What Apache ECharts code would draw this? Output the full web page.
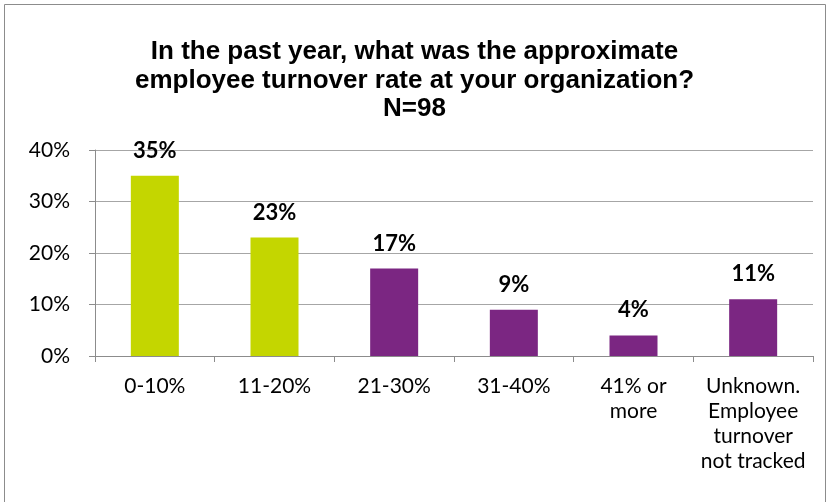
<!DOCTYPE html>
<html>
<head>
<meta charset="utf-8">
<script src="https://cdn.jsdelivr.net/npm/echarts@6/dist/echarts.min.js"></script>
<style>
  html, body { margin: 0; padding: 0; background: #fff; }
  #chart { width: 829px; height: 502px; }
</style>
</head>
<body>
<div id="chart"></div>
<script>
// Turnover survey responses (N=98), share of respondents per band (%)
const categories = ['0-10%', '11-20%', '21-30%', '31-40%', '41% or\nmore', 'Unknown.\nEmployee\nturnover\nnot tracked'];
const shares = [35, 23, 17, 9, 4, 11];
const barColors = ['#c4d600', '#c4d600', '#7b2682', '#7b2682', '#7b2682', '#7b2682'];
const yTicks = [0, 10, 20, 30, 40];

const chart = echarts.init(document.getElementById('chart'));
const labelFont = 'Lato, "Open Sans", sans-serif';

chart.setOption({
  animation: false,
  graphic: [{
    type: 'rect',
    shape: { x: 4.5, y: 4.5, width: 821, height: 510 },
    style: { fill: 'none', stroke: '#8c8c8c', lineWidth: 1 },
    silent: true
  }],
  title: {
    text: 'In the past year, what was the approximate\nemployee turnover rate at your organization?\nN=98',
    left: 'center',
    top: 33,
    textStyle: {
      fontFamily: '"Liberation Sans", Arial, sans-serif',
      fontWeight: 'bold',
      fontSize: 26,
      lineHeight: 28.5,
      color: '#000'
    }
  },
  grid: { left: 95, right: 16, top: 150, bottom: 146, containLabel: false },
  xAxis: {
    type: 'category',
    data: categories,
    axisLine: { lineStyle: { color: '#8c8c8c', width: 1 } },
    axisTick: { show: true, length: 6, lineStyle: { color: '#8c8c8c' } },
    axisLabel: {
      interval: 0,
      margin: 18,
      fontFamily: labelFont,
      fontSize: 21,
      lineHeight: 25,
      color: '#000'
    }
  },
  yAxis: {
    type: 'value',
    min: yTicks[0],
    max: yTicks[yTicks.length - 1],
    interval: 10,
    axisLine: { show: true, lineStyle: { color: '#8c8c8c', width: 1 } },
    axisTick: { show: true, length: 6, lineStyle: { color: '#8c8c8c' } },
    splitLine: { lineStyle: { color: '#a6a6a6', width: 1 } },
    axisLabel: {
      margin: 25,
      formatter: v => v + '%',
      fontFamily: labelFont,
      fontSize: 21,
      color: '#000'
    }
  },
  series: [{
    type: 'bar',
    barWidth: 48,
    data: shares.map((v, i) => ({ value: v, itemStyle: { color: barColors[i] } })),
    label: {
      show: true,
      position: 'top',
      distance: 14,
      formatter: p => p.value + '%',
      fontFamily: labelFont,
      fontWeight: 'bold',
      fontSize: 22,
      color: '#000'
    }
  }]
});
</script>
</body>
</html>
